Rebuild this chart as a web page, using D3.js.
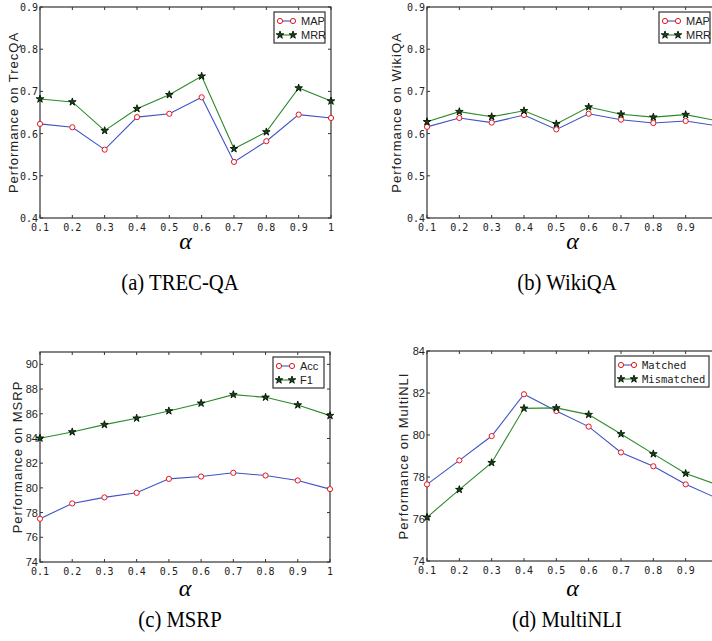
<!DOCTYPE html>
<html>
<head>
<meta charset="utf-8">
<script src="https://cdn.jsdelivr.net/npm/d3@7"></script>
<style>
  body { margin: 0; background: #fff; }
  svg { display: block; }
</style>
</head>
<body>
<svg id="chart" width="712" height="641"></svg>
<script>
// alpha values on the x axis
const alphas = [0.1, 0.2, 0.3, 0.4, 0.5, 0.6, 0.7, 0.8, 0.9, 1.0];
const xTickLabels = ["0.1", "0.2", "0.3", "0.4", "0.5", "0.6", "0.7", "0.8", "0.9", "1"];

// (a) TREC-QA
const trecMAP = [0.623, 0.615, 0.562, 0.639, 0.647, 0.686, 0.533, 0.582, 0.645, 0.637];
const trecMRR = [0.682, 0.675, 0.607, 0.659, 0.692, 0.736, 0.564, 0.604, 0.708, 0.677];
// (b) WikiQA
const wikiMAP = [0.616, 0.637, 0.626, 0.644, 0.610, 0.647, 0.633, 0.625, 0.630, 0.618];
const wikiMRR = [0.628, 0.652, 0.640, 0.654, 0.623, 0.663, 0.646, 0.639, 0.645, 0.630];
// (c) MSRP
const msrpAcc = [77.5, 78.74, 79.23, 79.6, 80.73, 80.92, 81.22, 81.0, 80.6, 79.9];
const msrpF1 = [84.02, 84.53, 85.12, 85.64, 86.23, 86.85, 87.55, 87.33, 86.71, 85.85];
// (d) MultiNLI
const mnliMatched = [77.65, 78.79, 79.95, 81.94, 81.14, 80.4, 79.17, 78.51, 77.65, 76.97];
const mnliMismatched = [76.08, 77.4, 78.68, 81.27, 81.29, 80.97, 80.05, 79.1, 78.17, 77.62];

const yTicksQA = [0.4, 0.5, 0.6, 0.7, 0.8, 0.9];
const yTicksMSRP = [74, 76, 78, 80, 82, 84, 86, 88, 90];
const yTicksMNLI = [74, 76, 78, 80, 82, 84];

const svg = d3.select("#chart");
const mono = "'DejaVu Sans Mono', monospace";
const sans = "'Liberation Sans', Arial, sans-serif";
const serif = "'Liberation Serif', 'Times New Roman', serif";

const panels = [
  { left: 40, top: 7, w: 291, h: 211, domain: [0.4, 0.9], yTicks: yTicksQA, yFmt: d3.format(".1f"), yFont: mono,
    ylabel: "Performance on TrecQA", ylx: 13, s1: trecMAP, s2: trecMRR, n1: "MAP", n2: "MRR", legW: 51, legFont: sans,
    caption: "(a) TREC-QA", capY: 290, alphaY: 249 },
  { left: 427, top: 7, w: 291, h: 211, domain: [0.4, 0.9], yTicks: yTicksQA, yFmt: d3.format(".1f"), yFont: mono,
    ylabel: "Performance on WikiQA", ylx: 396, s1: wikiMAP, s2: wikiMRR, n1: "MAP", n2: "MRR", legW: 51, legFont: sans,
    caption: "(b) WikiQA", capY: 290, alphaY: 249, legRight: 710 },
  { left: 40, top: 352, w: 290, h: 210, domain: [74, 91], yTicks: yTicksMSRP, yFmt: d3.format("d"), yFont: sans,
    ylabel: "Performance on MSRP", ylx: 17, s1: msrpAcc, s2: msrpF1, n1: "Acc", n2: "F1", legW: 51, legFont: sans,
    caption: "(c) MSRP", capY: 627, alphaY: 596 },
  { left: 427, top: 351, w: 291, h: 210, domain: [74, 84], yTicks: yTicksMNLI, yFmt: d3.format("d"), yFont: sans,
    ylabel: "Performance on MultiNLI", ylx: 403, s1: mnliMatched, s2: mnliMismatched, n1: "Matched", n2: "Mismatched", legW: 94, legFont: mono,
    caption: "(d) MultiNLI", capY: 627, alphaY: 596, legRight: 709 }
];

const blue = "#3f52c6", green = "#2b8a2b", red = "#e8161b", axisCol = "#333";
const star = d3.symbol().type(d3.symbolStar).size(18);

panels.forEach(p => {
  const x = d3.scaleLinear().domain([0.1, 1]).range([p.left, p.left + p.w]);
  const y = d3.scaleLinear().domain(p.domain).range([p.top + p.h, p.top]);
  const g = svg.append("g");

  // box
  g.append("rect").attr("x", p.left).attr("y", p.top).attr("width", p.w).attr("height", p.h)
    .attr("fill", "none").attr("stroke", axisCol).attr("stroke-width", 1.2);

  // ticks on bottom/top (inward); labels past the page edge are not shown
  alphas.forEach((a, i) => {
    g.append("line").attr("x1", x(a)).attr("x2", x(a)).attr("y1", p.top + p.h).attr("y2", p.top + p.h - 3).attr("stroke", axisCol);
    g.append("line").attr("x1", x(a)).attr("x2", x(a)).attr("y1", p.top).attr("y2", p.top + 3).attr("stroke", axisCol);
    if (x(a) > 706) return;
    g.append("text").attr("x", x(a)).attr("y", p.top + p.h + 13)
      .attr("text-anchor", "middle").attr("font-family", mono).attr("font-size", 10).attr("fill", "#222")
      .text(xTickLabels[i]);
  });
  p.yTicks.forEach(t => {
    g.append("line").attr("x1", p.left).attr("x2", p.left + 3).attr("y1", y(t)).attr("y2", y(t)).attr("stroke", axisCol);
    g.append("line").attr("x1", p.left + p.w).attr("x2", p.left + p.w - 3).attr("y1", y(t)).attr("y2", y(t)).attr("stroke", axisCol);
    g.append("text").attr("x", p.left - 2).attr("y", y(t) + 4)
      .attr("text-anchor", "end").attr("font-family", p.yFont).attr("font-size", p.yFont === mono ? 10 : 11).attr("fill", "#222")
      .text(p.yFmt(t));
  });

  // y label
  g.append("text").attr("transform", `translate(${p.ylx + 5},${p.top + p.h / 2}) rotate(-90)`)
    .attr("text-anchor", "middle").attr("font-family", sans).attr("font-size", 13).attr("letter-spacing", 1).attr("fill", "#222")
    .text(p.ylabel);

  // alpha label
  g.append("text").attr("x", p.left + p.w / 2).attr("y", p.alphaY)
    .attr("text-anchor", "middle").attr("font-family", serif).attr("font-style", "italic").attr("font-size", 24)
    .text("α");

  // caption
  g.append("text").attr("x", p.left + 140).attr("y", p.capY)
    .attr("text-anchor", "middle").attr("font-family", serif).attr("font-size", 23)
    .attr("transform", `translate(${(p.left + 140) * 0.1},0) scale(0.9,1)`)
    .text(p.caption);

  const line = d3.line().x((d, i) => x(alphas[i])).y(d => y(d));
  g.append("path").datum(p.s1).attr("d", line).attr("fill", "none").attr("stroke", blue).attr("stroke-width", 1.1);
  g.append("path").datum(p.s2).attr("d", line).attr("fill", "none").attr("stroke", green).attr("stroke-width", 1.1);

  g.selectAll(".c").data(p.s1).enter().append("circle")
    .attr("cx", (d, i) => x(alphas[i])).attr("cy", d => y(d)).attr("r", 2.6)
    .attr("fill", "#fff").attr("stroke", red).attr("stroke-width", 1);
  g.selectAll(".s").data(p.s2).enter().append("path")
    .attr("d", star).attr("transform", (d, i) => `translate(${x(alphas[i])},${y(d)})`)
    .attr("fill", "#0b4d0b").attr("stroke", "#000").attr("stroke-width", 0.8);

  // legend
  const lr = p.legRight || (p.left + p.w - 6);
  const lx = lr - p.legW, ly = p.top + 5;
  const leg = g.append("g");
  leg.append("rect").attr("x", lx).attr("y", ly).attr("width", p.legW).attr("height", 31)
    .attr("fill", "#fff").attr("stroke", axisCol).attr("stroke-width", 1.2);
  [[p.n1, blue, "c"], [p.n2, green, "s"]].forEach((e, k) => {
    const yy = ly + 9 + k * 14;
    leg.append("line").attr("x1", lx + 6).attr("x2", lx + 19).attr("y1", yy).attr("y2", yy).attr("stroke", e[1]).attr("stroke-width", 1.1);
    [lx + 6, lx + 19].forEach(mx => {
      if (e[2] === "c") {
        leg.append("circle").attr("cx", mx).attr("cy", yy).attr("r", 2.6).attr("fill", "#fff").attr("stroke", red);
      } else {
        leg.append("path").attr("d", star).attr("transform", `translate(${mx},${yy})`)
          .attr("fill", "#0b4d0b").attr("stroke", "#000").attr("stroke-width", 0.8);
      }
    });
    leg.append("text").attr("x", lx + 27).attr("y", yy + 4)
      .attr("font-family", p.legFont).attr("font-size", p.legFont === mono ? 10.5 : 11).attr("fill", "#222")
      .text(e[0]);
  });
});
</script>
</body>
</html>
